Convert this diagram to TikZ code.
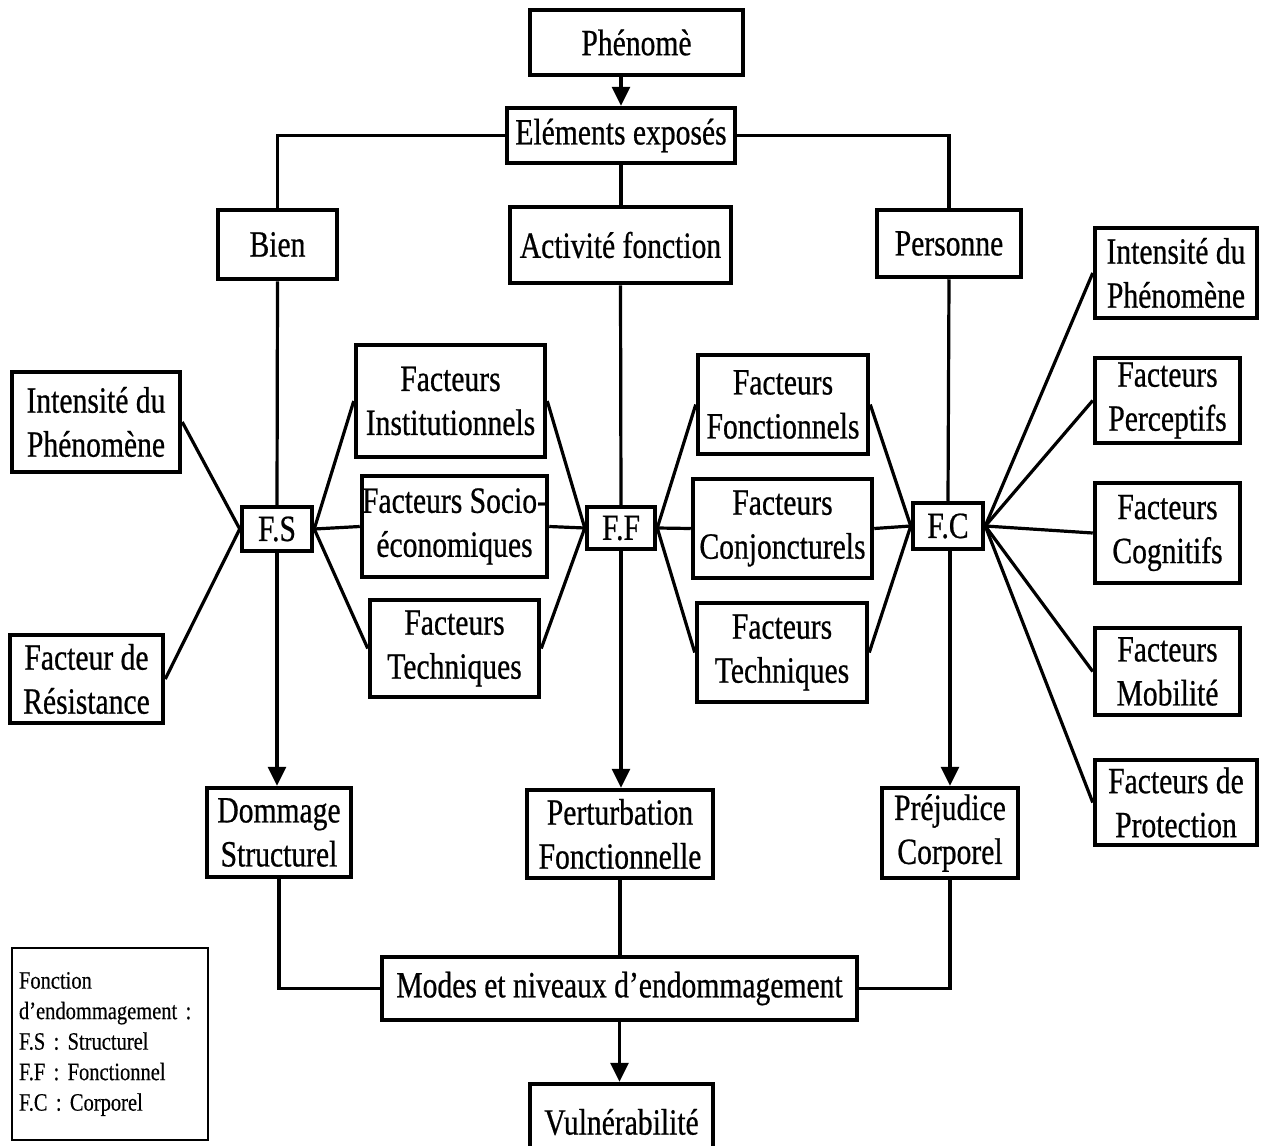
\documentclass[tikz,border=0pt]{standalone}
\usepackage{fontspec}
\setmainfont{Liberation Serif}[FakeStretch=0.8,FakeBold=0.6]
\newfontfamily\legendfont{Liberation Serif}[FakeStretch=0.82,FakeBold=0.4]
\usetikzlibrary{arrows.meta}
\newcommand{\boxfont}{\fontsize{37}{44}\selectfont}
\newcommand{\legfont}{\legendfont\fontsize{25}{30.5}\selectfont}

\begin{document}
\begin{tikzpicture}[x=1pt,y=-1pt,
  box/.style={draw,line width=4.5pt,align=center,inner sep=0pt,font=\boxfont},
  link/.style={line width=3.2pt},
  >={Triangle[width=18pt,length=19pt]}]
\useasboundingbox (0,0) rectangle (1264,1146);

% Top
\node[box,minimum width=213pt,minimum height=65pt] (phen) at (636.5,42.5) {Phénomè};
\node[box,minimum width=228pt,minimum height=55pt] (elem) at (621,135.5) {Eléments exposés};
\node[box,minimum width=119pt,minimum height=69pt] (bien) at (277.5,244.5) {Bien};
\node[box,minimum width=221pt,minimum height=76pt] (activ) at (620.5,245) {Activité fonction};
\node[box,minimum width=144pt,minimum height=67pt] (pers) at (949,243.5) {Personne};

% Damage functions
\node[box,minimum width=70pt,minimum height=44pt] (fs) at (277,529) {F.S};
\node[box,minimum width=68pt,minimum height=42pt] (ff) at (621,528) {F.F};
\node[box,minimum width=70pt,minimum height=46pt] (fc) at (948,526) {F.C};

% Left factors
\node[box,minimum width=168pt,minimum height=100pt] (intL) at (96,422) {Intensité du\\Phénomène};
\node[box,minimum width=153pt,minimum height=88pt] (resL) at (86.5,679) {Facteur de\\Résistance};

% Factors between F.S and F.F
\node[box,minimum width=189pt,minimum height=112pt] (inst) at (450.5,401) {Facteurs\\Institutionnels};
\node[box,minimum width=185pt,minimum height=101pt] (socio) at (454.5,526.5) {Facteurs Socio-\\économiques};
\node[box,minimum width=169pt,minimum height=97pt] (techL) at (454.5,648.5) {Facteurs\\Techniques};

% Factors between F.F and F.C
\node[box,minimum width=170pt,minimum height=99pt] (fonct) at (783,404.5) {Facteurs\\Fonctionnels};
\node[box,minimum width=179pt,minimum height=99pt] (conj) at (782.5,528.5) {Facteurs\\Conjoncturels};
\node[box,minimum width=170pt,minimum height=99pt] (techM) at (782,652.5) {Facteurs\\Techniques};

% Right factors
\node[box,minimum width=162pt,minimum height=90pt] (intR) at (1176,273) {Intensité du\\Phénomène};
\node[box,minimum width=145pt,minimum height=85pt] (perc) at (1167.5,400.5) {Facteurs\\Perceptifs};
\node[box,minimum width=145pt,minimum height=100pt] (cogn) at (1167.5,533) {Facteurs\\Cognitifs};
\node[box,minimum width=145pt,minimum height=87pt] (mobi) at (1167.5,671.5) {Facteurs\\Mobilité};
\node[box,minimum width=162pt,minimum height=85pt] (prot) at (1176,802.5) {Facteurs de\\Protection};

% Consequences
\node[box,minimum width=144pt,minimum height=89pt] (domm) at (279,832.5) {Dommage\\Structurel};
\node[box,minimum width=186pt,minimum height=88pt] (pert) at (620,834) {Perturbation\\Fonctionnelle};
\node[box,minimum width=136pt,minimum height=90pt] (prej) at (950,833) {Préjudice\\Corporel};
\node[box,minimum width=475pt,minimum height=63pt] (modes) at (619.5,988.5) {Modes et niveaux d’endommagement};
\node[box,minimum width=183pt,minimum height=76pt] (vuln) at (621.5,1122) {Vulnérabilité};

% Legend
\node[draw,line width=1.5pt,text width=182pt,inner xsep=7pt,minimum height=192pt,align=left,font=\legfont] (legend) at (110,1044)
  {Fonction\\d’endommagement~:\\F.S~: Structurel\\F.F~: Fonctionnel\\F.C~: Corporel};

% Connectors top
\draw[link,->] (elem.north |- phen.south) -- (elem.north);
\draw[link] (elem.west) -| (bien.north);
\draw[link] (elem.east) -| (pers.north);
\draw[link] (elem.south) -- (elem.south |- activ.north);

% Vertical branches
\draw[link] (bien.south) -- (fs.north);
\draw[link] (activ.south) -- (ff.north);
\draw[link] (pers.south) -- (fc.north);
\draw[link,->] (fs.south) -- (fs.south |- domm.north);
\draw[link,->] (ff.south) -- (ff.south |- pert.north);
\draw[link,->] (fc.south) -- (prej.north |- fc.south) -- (prej.north);

% Fans
\foreach \n in {intL,resL} \draw[link] (\n.east) -- (fs.west);
\foreach \n in {inst,socio,techL} {
  \draw[link] (fs.east) -- (\n.west);
  \draw[link] (\n.east) -- (ff.west);
}
\foreach \n in {fonct,conj,techM} {
  \draw[link] (ff.east) -- (\n.west);
  \draw[link] (\n.east) -- (fc.west);
}
\foreach \n in {intR,perc,cogn,mobi,prot} \draw[link] (fc.east) -- (\n.west);

% Bottom
\draw[link] (domm.south) |- (modes.west);
\draw[link] (pert.south) -- (pert.south |- modes.north);
\draw[link] (prej.south) |- (modes.east);
\draw[link,->] (modes.south) -- (modes.south |- vuln.north);
\end{tikzpicture}
\end{document}
